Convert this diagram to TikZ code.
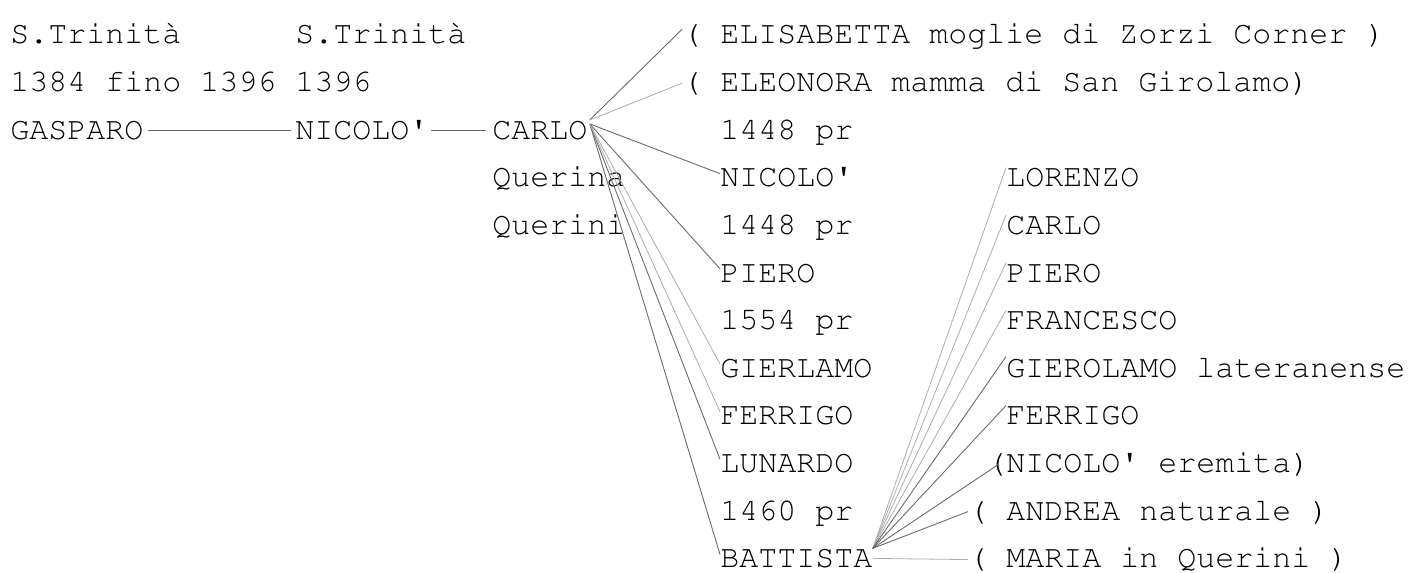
\documentclass[tikz,border=0pt]{standalone}
\usepackage[T1,TU]{fontenc}
\usetikzlibrary{positioning}
\newcommand{\typewriter}{\fontencoding{T1}\fontfamily{pcr}\fontsize{15.83pt}{19pt}\selectfont}

\begin{document}
\begin{tikzpicture}[x=0.5pt,y=-0.5pt,
    person/.style={anchor=base west,inner sep=0pt,font=\typewriter,text=black},
    link/.style={draw=black!58,line width=0.45pt},
    pale/.style={draw=black!32,line width=0.4pt}]
\useasboundingbox (0,0) rectangle (1411,572);

% Define the first generations
\node[person] (tri1) at (10,44) {S.Trinit\`a};
\node[person] (yr1) at (10,91.6) {1384 fino 1396};
\node[person] (gasparo) at (10,139.2) {GASPARO};
\node[person] (tri2) at (295,44) {S.Trinit\`a};
\node[person] (yr2) at (295,91.6) {1396};
\node[person] (nicolo) at (295,139.2) {NICOLO\textquotesingle};
\node[person] (carlo) at (492,139.2) {CARLO};
\node[person] (querina) at (492,186.8) {Querina};
\node[person] (querini) at (492,234.4) {Querini};

% Define the children of Carlo
\foreach \n/\x/\r/\t in {eli/682/0/{( ELISABETTA moglie di Zorzi Corner )},
    ele/682/1/{( ELEONORA mamma di San Girolamo)},
    y1/720/2/{1448 pr}, nic/720/3/{NICOLO\textquotesingle},
    y2/720/4/{1448 pr}, pie/720/5/{PIERO}, y3/720/6/{1554 pr},
    gie/720/7/{GIERLAMO}, fer/720/8/{FERRIGO}, lun/720/9/{LUNARDO},
    y4/720/10/{1460 pr}, bat/720/11/{BATTISTA}}
    \node[person] (\n) at (\x,{44+47.6*\r}) {\t};

% Define the children of Battista
\foreach \n/\x/\r/\t in {dlor/1006/3/{LORENZO}, dcar/1006/4/{CARLO},
    dpie/1006/5/{PIERO}, dfra/1006/6/{FRANCESCO},
    dgie/1006/7/{GIEROLAMO lateranense}, dfer/1006/8/{FERRIGO},
    dnic/987/9/{(NICOLO\textquotesingle{} eremita)},
    dand/968/10/{( ANDREA naturale )}, dmar/968/11/{( MARIA in Querini )}}
    \node[person] (\n) at (\x,{44+47.6*\r}) {\t};

% Draw the main line
\draw[link,shorten <=2pt,shorten >=2pt] (gasparo.east) -- (nicolo.west);
\draw[link,shorten <=1pt,shorten >=3pt] (nicolo.east) -- (carlo.west);

% Draw the branches of Carlo
\draw[link] ([xshift=1pt]carlo.north east) -- ([yshift=-3pt]eli.north west);
\draw[pale] ([xshift=1pt]carlo.north east) -- (ele.west);
\foreach \n in {nic,pie,lun,bat}
    \draw[link] ([xshift=1pt,yshift=-2pt]carlo.north east) -- ([yshift=2pt]\n.west);
\foreach \n in {gie,fer}
    \draw[pale] ([xshift=1pt,yshift=-2pt]carlo.north east) -- ([yshift=2pt]\n.west);

% Draw the branches of Battista
\foreach \n in {dlor,dcar,dpie,dfra}
    \draw[pale] (bat.north east) -- (\n.north west);
\foreach \n in {dgie,dfer}
    \draw[link] (bat.north east) -- (\n.north west);
\draw[link] (bat.north east) -- ([xshift=6pt]dnic.west);
\draw[link] (bat.north east) -- (dand.west);
\draw[pale] (bat.east) -- (dmar.west);
\end{tikzpicture}
\end{document}
